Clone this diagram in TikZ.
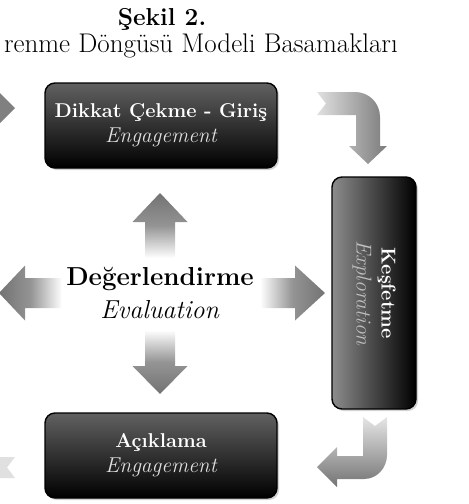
\documentclass[tikz,border=0pt]{standalone}
\usepackage{fontspec}
\usepackage{graphicx}
\usetikzlibrary{shadows}

\newcommand{\stname}[1]{{\fontsize{20}{25}\selectfont\bfseries #1}}
\newcommand{\steng}[1]{{\fontsize{21.5}{25}\selectfont\itshape #1}}

\begin{document}
\begin{tikzpicture}[x=1pt,y=-1pt,
    ttl/.style={font=\fontsize{24.5}{30}\selectfont\bfseries},
    sub/.style={font=\fontsize{27}{30}\selectfont},
    midtxt/.style={font=\fontsize{26}{33}\selectfont,align=center,inner sep=0pt},
    stagebase/.style={draw=black,line width=1.4pt,rounded corners=10pt,inner sep=0pt,
      text=white,align=center,font=\fontsize{20}{25}\selectfont,
      drop shadow={shadow xshift=2pt,shadow yshift=-2pt,opacity=.35}},
    stage/.style={stagebase,minimum width=232pt,minimum height=85pt,
      top color=black!62,bottom color=black},
    vstage/.style={stagebase,minimum width=84pt,minimum height=232pt,
      left color=black!45,right color=black},
    gup/.style={top color=black!55,bottom color=white,middle color=black!42},
    gdown/.style={top color=white,bottom color=black!55,middle color=black!42},
    gleft/.style={left color=black!55,right color=white,middle color=black!42},
    gright/.style={left color=white,right color=black!55,middle color=black!42}]
\useasboundingbox (0,0) rectangle (469,504);
\clip (0,0) rectangle (469,504);
% ===== heading =====
\node[ttl,anchor=base] (title) at (162,25) {Şekil 2.};
\node[sub,anchor=base east,inner sep=0pt] (subtitle) at (398,52) {renme Döngüsü Modeli Basamakları};
% ===== the three stage boxes =====
\node[stage] (dikkat) at (161,125.5)
  {\stname{Dikkat Çekme - Giriş}\\\steng{\color{black!12}Engagement}};
\node[vstage] (kesif) at (374,293)
  {\rotatebox{-90}{\begin{tabular}{@{}c@{}}\stname{Keşfetme}\\\steng{\color{black!25}Exploration}\end{tabular}}};
\node[stage] (aciklama) at (161,455.5)
  {\stname{Açıklama}\\\steng{\color{black!12}Engagement}};
% ===== centre: evaluation with four fat arrows =====
\node[midtxt] (eval) at (160,293) {\textbf{Değerlendirme}\\\textit{Evaluation}};
\begin{scope}[shift={(eval.center)}]
  \shade[gup]    (-15,-35) -- (-15,-71) -- (-27.5,-71) -- (0,-100) -- (27.5,-71) -- (15,-71) -- (15,-35) -- cycle;
  \shade[gdown]  (-15,37) -- (-15,73) -- (-27.5,73) -- (0,101) -- (27.5,73) -- (15,73) -- (15,37) -- cycle;
  \shade[gleft]  (-98,-15) -- (-135,-15) -- (-135,-27.5) -- (-161,0) -- (-135,27.5) -- (-135,15) -- (-98,15) -- cycle;
  \shade[gright] (100,-15) -- (135,-15) -- (135,-27.5) -- (165,0) -- (135,27.5) -- (135,15) -- (100,15) -- cycle;
\end{scope}
% ===== bent arrows between the boxes =====
\shade[left color=black!12,right color=black!52]
  (317,92) -- (355,92) .. controls (369,92) and (380,103) .. (380,117) -- (380,146) -- (387,146)
  -- (368,164) -- (349,146) -- (356,146) -- (356,115) -- (317,115) -- (326,103.5) -- cycle;
\shade[top color=black!10,bottom color=black!55]
  (363,417) -- (375,426) -- (387,417) -- (387,455) .. controls (387,468) and (377,479) .. (364,479)
  -- (337,479) -- (337,487) -- (317,467) -- (337,447) -- (337,456) -- (363,456) -- cycle;
% ===== cut-off arrows at the left edge =====
\fill[black!50] (-20,97) -- (-4,97) -- (-4,89) -- (15,108) -- (-4,127) -- (-4,119) -- (-20,119) -- cycle;
\fill[black!12] (-20,457) -- (15,457) -- (7,467.5) -- (15,478) -- (-20,478) -- cycle;
\end{tikzpicture}
\end{document}
